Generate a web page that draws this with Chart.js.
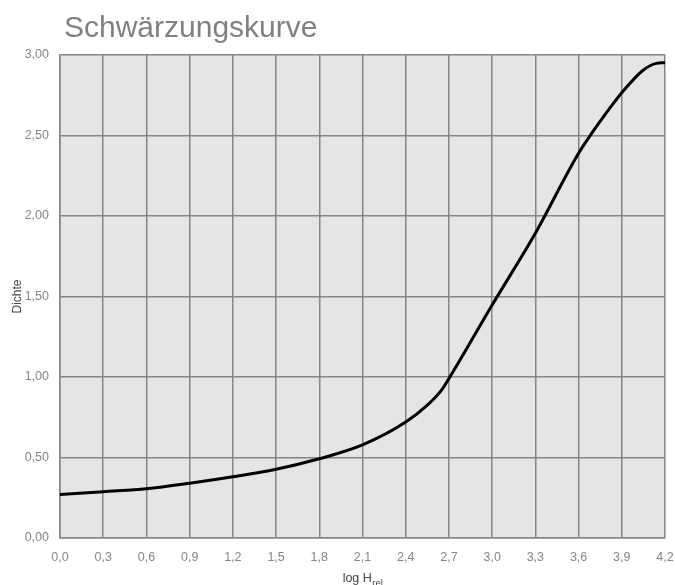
<!DOCTYPE html>
<html lang="de">
<head>
<meta charset="utf-8">
<title>Schwärzungskurve</title>
<script src="https://cdn.jsdelivr.net/npm/chart.js@4/dist/chart.umd.min.js"></script>
<style>
  html, body { margin: 0; padding: 0; background: #ffffff; }
  #wrap { position: relative; width: 675px; height: 585px; }
</style>
</head>
<body>
<div id="wrap"><canvas id="c" width="675" height="585"></canvas></div>
<script>
// Characteristic curve: density over relative log exposure
const logH    = [0, 0.3, 0.6, 0.9, 1.2, 1.5, 1.8, 2.1, 2.4, 2.55, 2.65, 2.7, 3.0, 3.3, 3.6, 3.7, 3.8, 3.9, 4.05, 4.14, 4.2];
const density = [0.27, 0.288, 0.306, 0.34, 0.38, 0.427, 0.492, 0.578, 0.72, 0.825, 0.92, 0.99, 1.447, 1.893, 2.39, 2.525, 2.65, 2.766, 2.907, 2.948, 2.952];

const xTicks = [0, 0.3, 0.6, 0.9, 1.2, 1.5, 1.8, 2.1, 2.4, 2.7, 3.0, 3.3, 3.6, 3.9, 4.2];
const yTicks = [0, 0.5, 1.0, 1.5, 2.0, 2.5, 3.0];

const chartTitle = 'Schwärzungskurve';
const yTitle = 'Dichte';
const xTitleMain = 'log H';
const xTitleSub = 'rel';

const FONT = "'Liberation Sans', Arial, Helvetica, sans-serif";
const GRID = '#858585';
const TICK_COLOR = '#858585';
const TITLE_COLOR = '#444444';

// grey plot background
const plotBackground = {
  id: 'plotBackground',
  beforeDraw(chart) {
    const { ctx, chartArea: a } = chart;
    ctx.save();
    ctx.fillStyle = '#e5e5e5';
    ctx.fillRect(a.left, a.top, a.right - a.left, a.bottom - a.top);
    ctx.restore();
  }
};

// nudge the chart title slightly inside the plot edge
const titleOffset = {
  id: 'titleOffset',
  afterLayout(chart) {
    if (chart.titleBlock) {
      chart.titleBlock.left = chart.chartArea.left + 4;
    }
  }
};

// x axis title with subscript
const xAxisTitle = {
  id: 'xAxisTitle',
  afterDraw(chart) {
    const { ctx, chartArea: a } = chart;
    ctx.save();
    ctx.fillStyle = TITLE_COLOR;
    ctx.textBaseline = 'alphabetic';
    ctx.textAlign = 'left';
    ctx.font = '12.5px ' + FONT;
    const w1 = ctx.measureText(xTitleMain).width;
    ctx.font = '9.5px ' + FONT;
    const w2 = ctx.measureText(xTitleSub).width;
    const x0 = (a.left + a.right) / 2 - (w1 + w2) / 2;
    ctx.font = '12.5px ' + FONT;
    ctx.fillText(xTitleMain, x0, 582);
    ctx.font = '9.5px ' + FONT;
    ctx.fillText(xTitleSub, x0 + w1 + 0.5, 586);
    ctx.restore();
  }
};

const points = logH.map((x, i) => ({ x, y: density[i] }));

new Chart(document.getElementById('c'), {
  type: 'line',
  data: {
    datasets: [{
      data: points,
      borderColor: '#000000',
      borderWidth: 3,
      pointRadius: 0,
      fill: false,
      cubicInterpolationMode: 'monotone',
      clip: false
    }]
  },
  options: {
    responsive: false,
    animation: false,
    devicePixelRatio: 1,
    layout: { padding: { left: 0, right: 10, top: 0, bottom: 0 } },
    plugins: {
      legend: { display: false },
      tooltip: { enabled: false },
      title: {
        display: true,
        text: chartTitle,
        align: 'start',
        fullSize: false,
        color: '#808080',
        font: { family: FONT, size: 30, weight: 'normal', lineHeight: 1.2 },
        padding: { top: 10.5, bottom: 8.5 }
      }
    },
    scales: {
      x: {
        type: 'linear',
        min: 0,
        max: 4.2,
        afterBuildTicks: s => { s.ticks = xTicks.map(v => ({ value: v })); },
        afterFit: s => { s.height = 47; s.paddingLeft = 0; s.paddingRight = 0; },
        ticks: {
          autoSkip: false,
          maxRotation: 0,
          padding: 12,
          color: TICK_COLOR,
          font: { family: FONT, size: 12.5 },
          callback: v => Number(v).toFixed(1).replace('.', ',')
        },
        grid: { color: GRID, lineWidth: 1.5, drawTicks: false },
        border: { display: true, color: GRID, width: 1.5 }
      },
      y: {
        type: 'linear',
        min: 0,
        max: 3,
        afterBuildTicks: s => { s.ticks = yTicks.map(v => ({ value: v })); },
        afterFit: s => { s.width = 60; s.paddingTop = 0; s.paddingBottom = 0; },
        ticks: {
          autoSkip: false,
          padding: 11,
          color: TICK_COLOR,
          font: { family: FONT, size: 12.5 },
          callback: v => Number(v).toFixed(2).replace('.', ',')
        },
        grid: { color: GRID, lineWidth: 1.5, drawTicks: false },
        border: { display: true, color: GRID, width: 1.5 },
        title: {
          display: true,
          text: yTitle,
          color: TITLE_COLOR,
          font: { family: FONT, size: 12, lineHeight: 1.2 },
          padding: { top: 10, bottom: 0 }
        }
      }
    }
  },
  plugins: [plotBackground, titleOffset, xAxisTitle]
});
</script>
</body>
</html>
